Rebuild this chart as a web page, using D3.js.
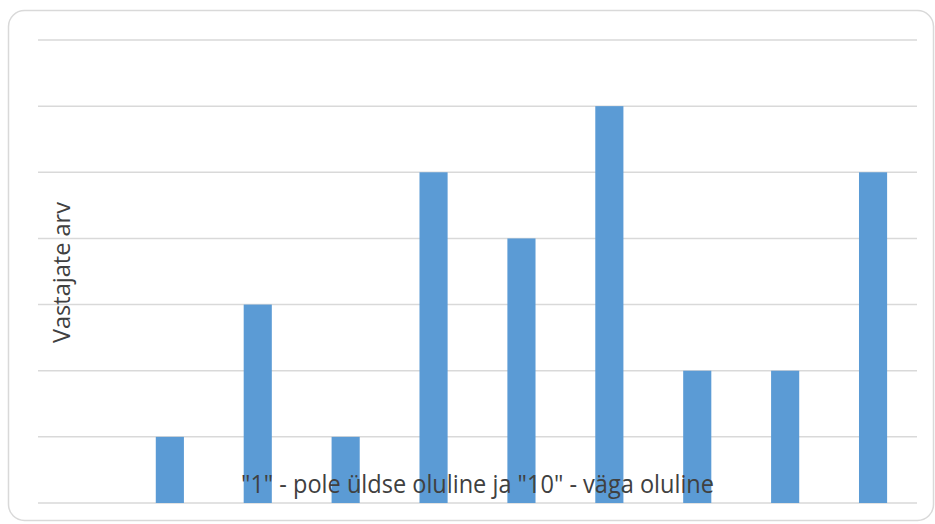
<!DOCTYPE html>
<html><head><meta charset="utf-8">
<script src="https://cdn.jsdelivr.net/npm/d3@7"></script>
<style>body{margin:0;background:#fff}svg{display:block}</style>
</head><body>
<svg id="c" width="935" height="524"></svg>
<script>
const categories = ["1","2","3","4","5","6","7","8","9","10"];
const values = [0,1,3,1,5,4,6,2,2,5];
const yTicks = [0,1,2,3,4,5,6,7];
const yTitle = "Vastajate arv";
const xTitle = "\"1\" - pole üldse oluline ja \"10\" - väga oluline";

const svg = d3.select("#c");
svg.append("rect").attr("x",8.5).attr("y",10.5).attr("width",925).attr("height",510)
  .attr("rx",16).attr("fill","#fff").attr("stroke","#d9d9d9").attr("stroke-width",1.5);

const x = d3.scaleBand().domain(categories).range([38,917]).paddingInner(0.68).paddingOuter(0.34);
const y = d3.scaleLinear().domain([0,7]).range([503,40]);

svg.append("g").selectAll("line").data(yTicks).join("line")
  .attr("x1",38).attr("x2",917).attr("y1",d=>y(d)).attr("y2",d=>y(d))
  .attr("stroke","#d9d9d9").attr("stroke-width",1.5);

svg.append("g").selectAll("rect").data(values).join("rect")
  .attr("x",(d,i)=>x(categories[i])).attr("width",x.bandwidth())
  .attr("y",d=>y(d)).attr("height",d=>y(0)-y(d)).attr("fill","#5B9BD5");

svg.append("text").attr("transform","translate(69.5,272.5) rotate(-90)")
  .attr("text-anchor","middle").attr("font-family","Open Sans").attr("font-size",23)
  .attr("textLength",141).attr("lengthAdjust","spacingAndGlyphs")
  .attr("fill","#404040").text(yTitle);
svg.append("text").attr("x",477.5).attr("y",493)
  .attr("text-anchor","middle").attr("font-family","Open Sans").attr("font-size",26)
  .attr("textLength",473).attr("lengthAdjust","spacingAndGlyphs")
  .attr("fill","#404040").text(xTitle);
</script>
</body></html>
